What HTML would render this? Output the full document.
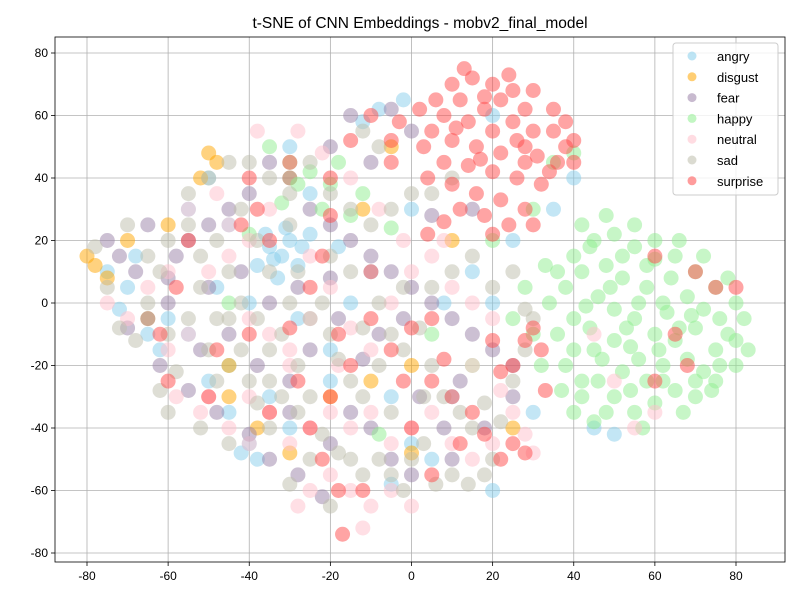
<!DOCTYPE html>
<html><head><meta charset="utf-8"><style>
body{margin:0;background:#fff;font-family:"Liberation Sans","DejaVu Sans",sans-serif}
</style></head><body>
<svg id="chart" width="800" height="600" xmlns="http://www.w3.org/2000/svg">
<rect width="800" height="600" fill="#fff"/>
<text x="420" y="28" text-anchor="middle" font-size="15.5" fill="#000">t-SNE of CNN Embeddings - mobv2_final_model</text>
<g id="grid"></g><g id="pts"></g><g id="axes"></g><g id="legend"></g>
</svg>
<script>
const classes=["angry","disgust","fear","happy","neutral","sad","surprise"];
const colors=["#87CEEB","#FFA500","#9a82a8","#90EE90","#FFC0CB","#bdbdab","#FF4a4a"];
const xTicks=[-80,-60,-40,-20,0,20,40,60,80];
const yTicks=[-80,-60,-40,-20,0,20,40,60,80];
const angry=[-35,18,-32,15,-30,20,-28,12,-38,12,-33,8,-36,22,-40,-45,-42,-48,-38,-50,-50,-25,-60,-5,-65,-10,-70,5,-75,10,-72,-2,-68,15,-55,30,-50,40,-45,25,-25,35,-30,50,-35,-30,-45,-20,-20,-15,-15,0,-10,10,-5,-30,0,-45,5,-50,10,-30,8,0,15,10,25,20,30,-35,20,60,-2,65,-8,62,-12,58,20,-60,-5,-58,-20,-25,-28,-5,-62,-15,-55,-10,-48,5,-40,0,-25,22,-18,18,40,40,35,30,45,-40,50,-42,20,0,0,30,-45,-35,-30,-40,-34,14,-31,24,-27,18];
const disgust=[-80,15,-78,12,-75,8,-70,20,-65,-5,-60,25,-50,48,-48,45,-52,40,-45,-20,-38,-40,-30,-48,-20,-30,-10,-25,0,-20,0,-48,-5,50,-30,40,10,20,-45,-30,25,-40,-12,30];
const fear=[-75,20,-72,15,-68,10,-65,-5,-60,0,-58,15,-55,20,-50,25,-45,30,-40,35,-35,45,-30,40,-25,30,-20,25,-15,20,-10,15,-5,10,0,5,5,0,10,-5,15,-10,20,-15,25,-20,-70,-8,-62,-20,-55,-28,-48,-35,-40,-42,-35,-50,-28,-55,-20,-45,-15,-35,-10,-40,-5,-50,0,-55,8,-40,12,-25,-8,-10,-18,-5,-25,-15,-30,-25,-38,-20,-45,-10,-50,5,-42,10,-35,0,-28,5,-20,8,-12,-18,-2,-5,2,-30,18,-40,25,-30,-15,60,-5,62,0,55,-10,45,-20,50,5,28,15,30,10,-50,-22,-62,-30,-35,-52,-15,-65,25,-60,8];
const happy=[42,25,45,20,50,22,55,18,60,20,65,15,70,10,75,5,80,0,82,-5,78,-10,75,-15,80,-20,75,-25,70,-30,65,-28,60,-32,55,-35,50,-30,45,-38,40,-35,42,-25,45,-15,40,-5,38,5,42,10,48,12,52,8,58,5,62,0,68,2,72,-2,66,-8,60,-10,55,-5,50,-2,46,2,44,-8,50,-12,56,-18,62,-20,68,-18,72,-22,65,-12,58,-25,52,-22,46,-25,40,-15,36,-10,34,0,36,10,40,15,52,15,58,12,64,8,70,-8,76,-5,78,8,72,15,66,20,60,14,55,25,48,28,44,18,38,-20,42,-30,48,-35,54,-28,62,-25,70,-25,76,-20,80,-12,30,-10,32,-20,28,5,33,12,37,-28,56,0,63,-3,53,-8,47,-18,67,-35,74,-28,83,-15,57,-40,49,5,61,-15,69,-4,54,-14,43,-1,-25,42,-28,38,-22,30,-15,28,-12,35,-30,45,-35,50,-5,24,20,20,25,-5,35,45,40,48,15,-20,-20,38,-32,32,-18,45,-40,22,-8,-42,5,-10,-45,0,30,30];
const neutral=[-75,0,-70,-5,-60,10,-55,-10,-50,-30,-45,-40,-40,-45,-35,-35,-30,-45,-25,-40,-20,-35,-15,-40,-10,-35,-5,-45,0,-40,5,-35,10,-45,15,-50,20,-45,25,-35,28,-42,-20,-55,-15,-60,-10,-65,-5,-60,0,-65,-12,-72,-25,-60,-28,-65,-30,-15,-25,-5,-20,5,-15,-8,-10,-15,-5,0,0,10,5,15,10,5,15,0,20,-5,-40,20,-45,15,-50,10,-55,30,-48,35,-35,30,-25,15,-30,-20,-40,-30,-58,-30,-52,-35,-60,-15,-40,-5,-35,-10,8,20,-2,20,-8,30,-15,40,-28,55,-22,48,45,-10,50,-25,55,-40,60,-35,-38,55,-45,25,-65,5,15,-20,22,-28,30,-48,-18,-20];
const sad=[-78,18,-75,5,-72,-8,-68,-12,-65,0,-62,10,-60,20,-55,25,-52,15,-48,20,-45,10,-42,0,-38,-5,-35,-15,-32,-10,-30,0,-28,10,-25,-5,-22,0,-20,-10,-18,-18,-15,-25,-12,-30,-8,-20,-5,-10,-2,-15,2,-8,5,-20,8,-30,12,-35,15,-40,18,-32,22,-38,25,-25,28,-15,30,-5,-60,-10,-58,-22,-55,-5,-50,-15,-48,-25,-45,-5,-42,-15,-40,-25,-38,-32,-35,-40,-32,-30,-28,-35,-25,-30,-22,-42,-18,-48,-15,-50,-12,-55,-8,-50,-5,-55,-2,-60,0,-50,3,-45,6,-58,10,-55,14,-58,18,-55,20,-50,-20,-65,-25,-50,-30,-58,-35,-25,-45,-45,-52,-40,-50,40,-45,45,-40,45,-35,40,-30,35,-25,45,-20,35,-15,30,-10,25,-5,30,0,35,5,35,10,40,-8,50,-12,55,-38,20,-42,30,-55,35,-65,15,-70,25,-62,-28,-8,0,-15,10,-20,15,-2,5,5,5,10,10,15,15,20,5,25,10,28,-2,-60,-35,-48,-5,-52,5,-35,10,-30,25,-28,-20,-12,-8,-5,-35,3,-30];
const surprise=[10,70,15,72,20,70,25,68,12,65,18,62,22,65,28,62,8,60,14,58,20,55,25,58,30,55,35,55,38,50,40,45,34,42,28,45,22,48,16,50,10,52,5,55,3,50,8,45,14,44,20,42,26,40,32,38,36,45,40,52,28,50,18,66,24,73,13,75,30,68,6,65,2,62,-3,58,-5,52,4,40,10,38,16,35,22,33,28,30,24,25,18,28,12,30,8,26,4,22,20,22,30,25,38,58,35,62,17,46,26,52,31,47,11,56,-10,60,-5,45,-15,52,-20,28,-22,15,-25,5,-30,-8,-18,-10,-15,-20,-10,-5,-5,-15,-2,-25,5,-25,8,-18,10,-30,15,-35,12,-45,18,-42,25,-45,22,-50,28,-48,-20,-30,-25,-40,-22,-50,-18,-60,-17,-74,0,-8,5,-5,20,-12,22,-22,25,-20,28,-12,30,-8,32,-15,33,-28,-35,20,-38,30,-42,25,-55,20,-60,-25,-48,-15,-58,5,-30,45,-20,40,-40,40,-50,-30,-62,-10,-35,-35,-28,-25,-40,-10,60,15,70,10,75,5,80,5,65,-10,-10,10,0,-40,5,-55,-12,-60,60,-25,68,-20];
const series=[angry,disgust,fear,happy,neutral,sad,surprise];
const NS="http://www.w3.org/2000/svg";
const L=55,R=785,T=37,B=562;
function sx(v){return 411.5+v*649/160;}
function sy(v){return 303-v*500/160;}
function mk(tag,attrs,parent){const e=document.createElementNS(NS,tag);for(const k in attrs)e.setAttribute(k,attrs[k]);parent.appendChild(e);return e;}
const grid=document.getElementById('grid'),axes=document.getElementById('axes'),pts=document.getElementById('pts'),leg=document.getElementById('legend');
xTicks.forEach(t=>{const x=sx(t);
 const g=mk('line',{x1:x,x2:x,y1:T,y2:B,stroke:'#b0b0b0','stroke-width':0.8},grid);
 
 
 mk('line',{x1:x,x2:x,y1:B,y2:B+4,stroke:'#000','stroke-width':0.8},axes);
 const tx=mk('text',{x:x,y:B+18,'text-anchor':'middle','font-size':12},axes);tx.textContent=t;
 
 });
yTicks.forEach(t=>{const y=sy(t);
 const g=mk('line',{x1:L,x2:R,y1:y,y2:y,stroke:'#b0b0b0','stroke-width':0.8},grid);
 
 
 mk('line',{x1:L-4,x2:L,y1:y,y2:y,stroke:'#000','stroke-width':0.8},axes);
 const tx=mk('text',{x:L-7,y:y+4,'text-anchor':'end','font-size':12},axes);tx.textContent=t;
 
 });
const frame=mk('rect',{x:L,y:T,width:R-L,height:B-T,fill:'none',stroke:'#000','stroke-width':0.8},axes);


series.forEach((arr,ci)=>{for(let i=0;i+1<arr.length;i+=2){
 const c=mk('circle',{cx:sx(arr[i]),cy:sy(arr[i+1]),r:7.5,fill:colors[ci],'fill-opacity':0.5},pts);
 
 }});
const box=mk('rect',{x:673,y:43,width:105,height:152,rx:3,fill:'#fff','fill-opacity':0.8,stroke:'#ccc'},leg);


classes.forEach((c,i)=>{const y=56+i*20.8;
 const m=mk('circle',{cx:692,cy:y,r:4.5,fill:colors[i],'fill-opacity':0.55},leg);
 
 
 const t=mk('text',{x:717,y:y+5,'font-size':13},leg);t.textContent=c;
 
 });
</script>
</body></html>
